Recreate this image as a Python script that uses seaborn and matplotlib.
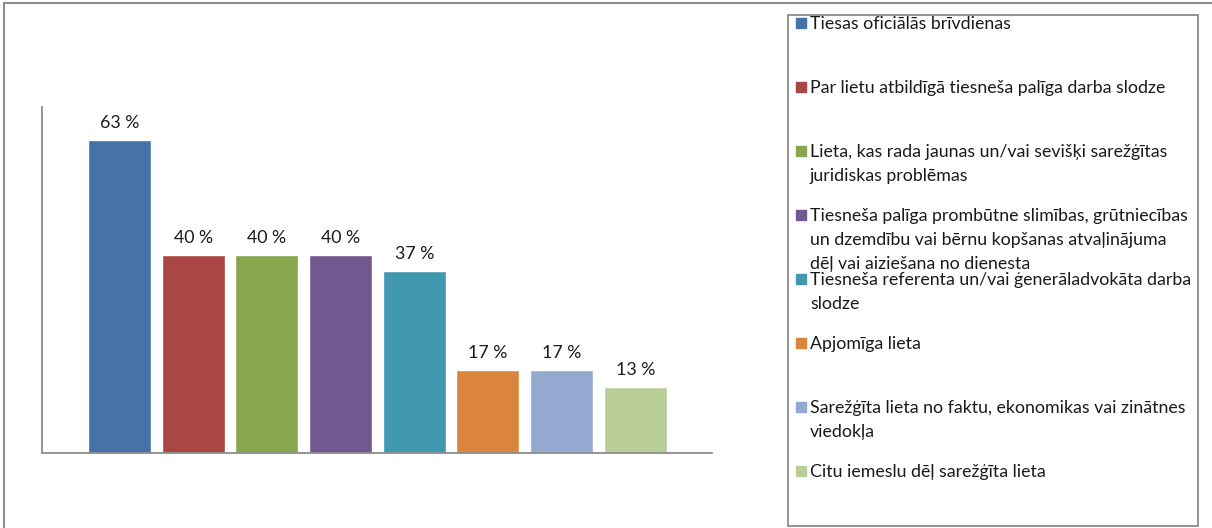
import matplotlib
matplotlib.use("Agg")
import matplotlib.pyplot as plt
from matplotlib.patches import Rectangle
from matplotlib.lines import Line2D
import pandas as pd
import seaborn as sns

# data (shares of 30 answers, labels rounded as in the source)
reasons = [
    "Tiesas oficiālās brīvdienas",
    "Par lietu atbildīgā tiesneša palīga darba slodze",
    "Lieta, kas rada jaunas un/vai sevišķi sarežģītas\njuridiskas problēmas",
    "Tiesneša palīga prombūtne slimības, grūtniecības\nun dzemdību vai bērnu kopšanas atvaļinājuma\ndēļ vai aiziešana no dienesta",
    "Tiesneša referenta un/vai ģenerāladvokāta darba\nslodze",
    "Apjomīga lieta",
    "Sarežģīta lieta no faktu, ekonomikas vai zinātnes\nviedokļa",
    "Citu iemeslu dēļ sarežģīta lieta",
]
shares = [63.3, 40.0, 40.0, 40.0, 36.7, 16.7, 16.7, 13.3]
share_labels = ["63 %", "40 %", "40 %", "40 %", "37 %", "17 %", "17 %", "13 %"]
colors = ["#4572A7", "#AA4643", "#89A54E", "#71588F",
          "#4198AF", "#DB843D", "#93A9CF", "#B9CD96"]

sns.set_style("white")
plt.rcParams['font.family'] = ['Lato', 'DejaVu Sans']
FS = 12.8

df = pd.DataFrame({"reason": reasons, "share": shares})

W, H = 1212, 528
fig = plt.figure(figsize=(W / 100, H / 100), dpi=100)
ax = fig.add_axes([42 / W, 1 - 452.7 / H, (712 - 42) / W, (452.7 - 107) / H])

sns.barplot(data=df, x="reason", y="share", hue="reason", order=reasons,
            hue_order=reasons, palette=colors, width=0.855, legend=False,
            saturation=1, ax=ax)

for i, (v, lab) in enumerate(zip(shares, share_labels)):
    ax.annotate(lab, (i, v), xytext=(0, 9), textcoords="offset points",
                ha="center", va="baseline", fontsize=FS, color="#1a1a1a")

ax.set_xlim(-1.05, 8.04)
ax.set_ylim(0, 70)
ax.set_xticks([-1.05, 8.04])
ax.set_xticklabels(["", ""])
ax.set_yticks([])
ax.set_xlabel("")
ax.set_ylabel("")
ax.tick_params(axis="x", length=4, width=1.3, color="#8c8c8c", direction="out")
for s in ["top", "right"]:
    ax.spines[s].set_visible(False)
for s in ["left", "bottom"]:
    ax.spines[s].set_color("#8c8c8c")
    ax.spines[s].set_linewidth(1.3)

# outer chart frame (only top and left edges are visible)
fig.add_artist(Line2D([4 / W, 4 / W], [0, 1 - 3 / H], color="#8c8c8c", lw=1.5))
fig.add_artist(Line2D([4 / W, 1], [1 - 3 / H, 1 - 3 / H], color="#8c8c8c", lw=1.5))

# legend box, entries evenly spaced like the original (long ones overlap)
fig.add_artist(Rectangle((788 / W, 1 - 526 / H), (1198 - 788) / W, (526 - 15) / H,
                         transform=fig.transFigure, fill=False,
                         edgecolor="#8c8c8c", lw=1.3))
for i, (lab, c) in enumerate(zip(reasons, colors)):
    yc = 23 + i * 64
    fig.add_artist(Rectangle((796 / W, 1 - (yc + 5) / H), 10 / W, 10 / H,
                             transform=fig.transFigure, color=c))
    for k, line in enumerate(lab.split("\n")):
        fig.text(810 / W, 1 - (yc + 6 + k * 24) / H, line, ha="left",
                 va="baseline", fontsize=FS, color="#1a1a1a")

fig.savefig("out.png", dpi=100)
